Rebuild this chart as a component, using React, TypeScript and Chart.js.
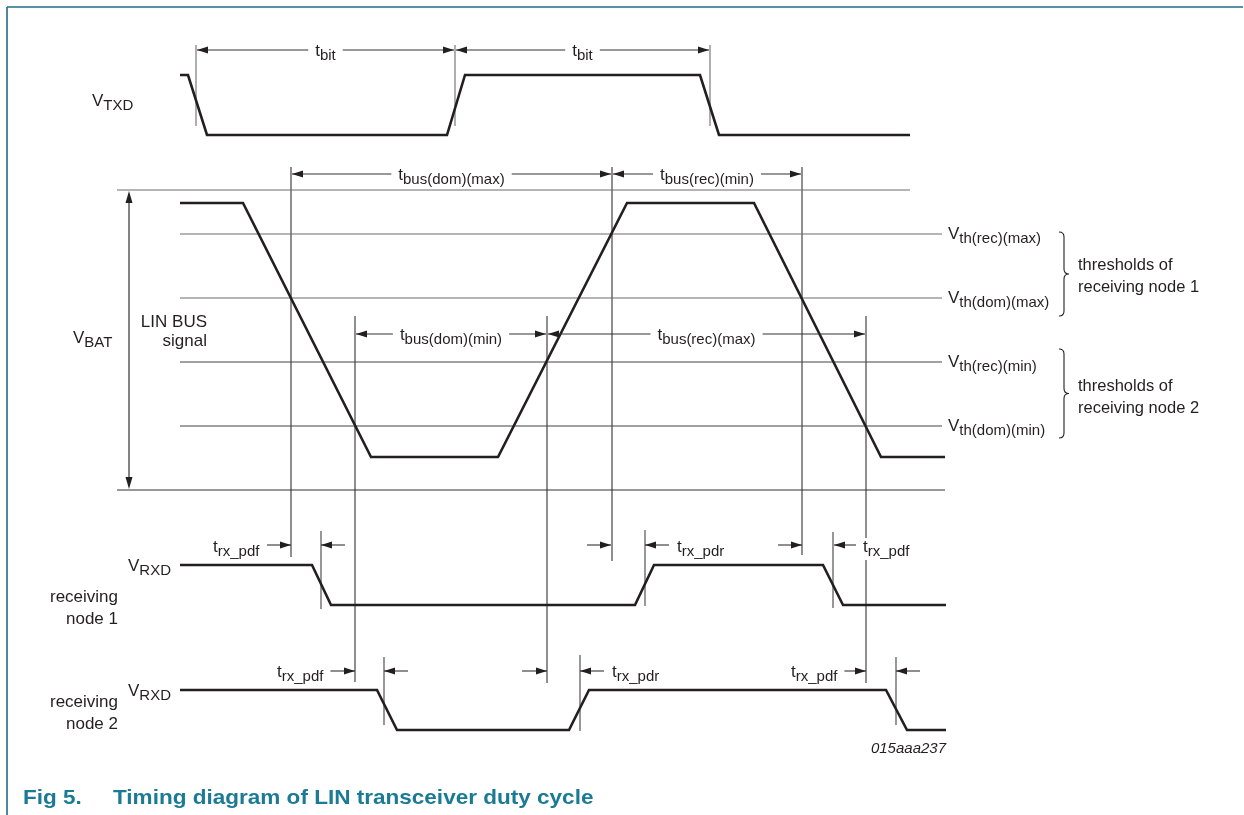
import React, { useEffect, useRef } from "react";
import { Chart, registerables } from "chart.js";

Chart.register(...registerables);

const W = 1244;
const H = 815;
const INK = "#231f20";
const GRAY = "#6d6d6d";
const TEAL = "#1b7a95";
const FRAME = "#266c84";
const FONT = '"Liberation Sans", Arial, Helvetica, sans-serif';

// ---- waveforms (time, level) ----
const txdTime = [180, 188, 207, 447, 465, 700, 719, 910];
const txdLevel = [75, 75, 135, 135, 75, 75, 135, 135];
const busTime = [180, 243, 371, 498, 627, 754, 881, 945];
const busLevel = [203, 203, 457, 457, 203, 203, 457, 457];
const rxd1Time = [180, 312, 331, 635, 654, 823, 843, 946];
const rxd1Level = [565, 565, 605, 605, 565, 565, 605, 605];
const rxd2Time = [180, 377, 397, 569, 589, 886, 907, 946];
const rxd2Level = [690, 690, 730, 730, 690, 690, 730, 730];

// ---- bus reference levels ----
const vbatLevels = [190, 490];
const vbatEnds = [910, 945];
const thresholdLevels = [234, 298, 362, 426];
const thresholdSubs = ["th(rec)(max)", "th(dom)(max)", "th(rec)(min)", "th(dom)(min)"];

// ---- timing marks ----
const tbitMarks = [196, 455, 710];
const busMarkTime = [291, 355, 547, 612, 802, 866];
const busMarkTop = [167, 316, 316, 167, 167, 316];
const busMarkBottom = [557, 682, 683, 561, 555, 683];
const rxMarkTime = [321, 645, 833, 384, 580, 896];
const rxMarkTop = [531, 530, 532, 657, 655, 657];
const rxMarkBottom = [609, 606, 608, 725, 731, 725];

// ---- dimension arrows: from, to, row, subscript ----
const dimFrom = [196, 455, 291, 612, 355, 547];
const dimTo = [455, 710, 612, 802, 547, 866];
const dimRow = [50, 50, 174, 174, 334, 334];
const dimSub = ["bit", "bit", "bus(dom)(max)", "bus(rec)(min)", "bus(dom)(min)", "bus(rec)(max)"];

// ---- propagation delay arrows: tail, tip, row ----
const pdTail = [267, 345, 587, 669, 778, 858, 330, 408, 522, 604, 841, 920];
const pdTip = [291, 321, 611, 645, 802, 834, 355, 384, 547, 580, 866, 896];
const pdRow = [545, 545, 545, 545, 545, 545, 671, 671, 671, 671, 671, 671];
const pdLabelX = [213, 677, 863, 277, 612, 791];
const pdLabelRow = [552, 552, 552, 677, 677, 677];
const pdLabelSub = ["rx_pdf", "rx_pdr", "rx_pdf", "rx_pdf", "rx_pdr", "rx_pdf"];

export default function App() {
  const ref = useRef<HTMLCanvasElement>(null);

  useEffect(() => {
    document.body.style.margin = "0";
    const canvas = ref.current;
    if (!canvas) return;

    const datasets: any[] = [];
    const wave = (xs: number[], ys: number[]) => ({
      data: xs.map((x, i) => ({ x, y: ys[i] })),
      showLine: true,
      borderColor: INK,
      borderWidth: 2.6,
      pointRadius: 0,
      tension: 0,
      clip: false,
      borderJoinStyle: "miter",
      order: 0,
    });
    const seg = (x1: number, y1: number, x2: number, y2: number, color: string, width: number) => ({
      data: [
        { x: x1, y: y1 },
        { x: x2, y: y2 },
      ],
      showLine: true,
      borderColor: color,
      borderWidth: width,
      pointRadius: 0,
      tension: 0,
      clip: false,
      order: 1,
    });

    // frame
    datasets.push(seg(7, 7, 1243, 7, FRAME, 1.6));
    datasets.push(seg(7, 7, 7, 815, FRAME, 1.6));
    // VBAT / ground lines
    vbatLevels.forEach((y, i) => datasets.push(seg(117, y, vbatEnds[i], y, i === 0 ? GRAY : "#333", 1.2)));
    // thresholds
    thresholdLevels.forEach((y, i) => datasets.push(seg(180, y, 942, y, i < 2 ? GRAY : "#444", 1.1)));
    // tbit marks
    tbitMarks.forEach((x) => datasets.push(seg(x, 45, x, 126, GRAY, 1.1)));
    // bus timing marks
    busMarkTime.forEach((x, i) => datasets.push(seg(x, busMarkTop[i], x, busMarkBottom[i], "#333", 1.1)));
    // rx marks
    rxMarkTime.forEach((x, i) => datasets.push(seg(x, rxMarkTop[i], x, rxMarkBottom[i], "#444", 1.1)));
    // VBAT arrow shaft
    datasets.push(seg(129, 196, 129, 484, "#333", 1.2));
    // waveforms
    datasets.push(wave(txdTime, txdLevel));
    datasets.push(wave(busTime, busLevel));
    datasets.push(wave(rxd1Time, rxd1Level));
    datasets.push(wave(rxd2Time, rxd2Level));

    const annot = {
      id: "annot",
      afterDatasetsDraw(chart: any) {
        const c: CanvasRenderingContext2D = chart.ctx;
        const sx = (v: number) => chart.scales.x.getPixelForValue(v);
        const sy = (v: number) => chart.scales.y.getPixelForValue(v);

        const head = (tipX: number, tipY: number, dir: number, vertical = false) => {
          c.beginPath();
          if (!vertical) {
            c.moveTo(tipX, tipY);
            c.lineTo(tipX - dir * 11, tipY - 3.5);
            c.lineTo(tipX - dir * 11, tipY + 3.5);
          } else {
            c.moveTo(tipX, tipY);
            c.lineTo(tipX - 3.5, tipY - dir * 12);
            c.lineTo(tipX + 3.5, tipY - dir * 12);
          }
          c.closePath();
          c.fill();
        };

        const subText = (
          x: number,
          y: number,
          main: string,
          sub: string,
          align: "left" | "center" | "right",
          bg: boolean,
          mainSize = 17,
          subSize = 15
        ) => {
          c.textAlign = "left";
          c.textBaseline = "alphabetic";
          c.font = `${mainSize}px ${FONT}`;
          const w1 = c.measureText(main).width;
          c.font = `${subSize}px ${FONT}`;
          const w2 = c.measureText(sub).width;
          const w = w1 + w2;
          let x0 = x;
          if (align === "center") x0 = x - w / 2;
          if (align === "right") x0 = x - w;
          if (bg) {
            c.fillStyle = "#ffffff";
            c.fillRect(x0 - 7, y - 14, w + 14, 22);
          }
          c.fillStyle = INK;
          c.font = `${mainSize}px ${FONT}`;
          c.fillText(main, x0, y);
          c.font = `${subSize}px ${FONT}`;
          c.fillText(sub, x0 + w1, y + 4);
        };

        const plain = (x: number, y: number, s: string, align: CanvasTextAlign, size = 17) => {
          c.fillStyle = INK;
          c.font = `${size}px ${FONT}`;
          c.textAlign = align;
          c.textBaseline = "alphabetic";
          c.fillText(s, x, y);
        };

        c.save();
        c.strokeStyle = INK;
        c.fillStyle = INK;

        // dimension arrows
        dimFrom.forEach((a, i) => {
          const x1 = sx(a) + 1;
          const x2 = sx(dimTo[i]) - 1;
          const y = sy(dimRow[i]);
          c.strokeStyle = "#333";
          c.lineWidth = 1.1;
          c.beginPath();
          c.moveTo(x1, y);
          c.lineTo(x2, y);
          c.stroke();
          c.fillStyle = INK;
          head(x1, y, -1);
          head(x2, y, 1);
          subText((x1 + x2) / 2, y + 6, "t", dimSub[i], "center", true);
        });

        // propagation delay arrows
        pdTail.forEach((t, i) => {
          const x1 = sx(t);
          const x2 = sx(pdTip[i]);
          const y = sy(pdRow[i]);
          c.strokeStyle = "#333";
          c.lineWidth = 1.1;
          c.beginPath();
          c.moveTo(x1, y);
          c.lineTo(x2, y);
          c.stroke();
          c.fillStyle = INK;
          head(x2, y, x2 > x1 ? 1 : -1);
        });
        pdLabelX.forEach((x, i) => {
          subText(sx(x), sy(pdLabelRow[i]), "t", pdLabelSub[i], "left", true);
        });

        // VBAT arrow heads
        c.fillStyle = INK;
        head(sx(129), sy(vbatLevels[0]) + 1, -1, true);
        head(sx(129), sy(vbatLevels[1]) - 1, 1, true);

        // threshold labels
        thresholdLevels.forEach((y, i) => {
          subText(sx(948), sy(y) + 5, "V", thresholdSubs[i], "left", false, 17, 15);
        });

        // braces
        const brace = (x0: number, yTop: number, yBot: number) => {
          const d = 10;
          const yMid = (yTop + yBot) / 2;
          c.strokeStyle = INK;
          c.lineWidth = 1.1;
          c.beginPath();
          c.moveTo(x0, yTop);
          c.quadraticCurveTo(x0 + d / 2, yTop, x0 + d / 2, yTop + d / 2);
          c.lineTo(x0 + d / 2, yMid - d / 2);
          c.quadraticCurveTo(x0 + d / 2, yMid, x0 + d, yMid);
          c.quadraticCurveTo(x0 + d / 2, yMid, x0 + d / 2, yMid + d / 2);
          c.lineTo(x0 + d / 2, yBot - d / 2);
          c.quadraticCurveTo(x0 + d / 2, yBot, x0, yBot);
          c.stroke();
        };
        brace(sx(1059), sy(232), sy(316));
        brace(sx(1059), sy(349), sy(438));
        plain(sx(1078), sy(270), "thresholds of", "left", 16.5);
        plain(sx(1078), sy(292), "receiving node 1", "left", 16.5);
        plain(sx(1078), sy(391), "thresholds of", "left", 16.5);
        plain(sx(1078), sy(413), "receiving node 2", "left", 16.5);

        // left labels
        subText(sx(92), sy(106), "V", "TXD", "left", false);
        subText(sx(73), sy(343), "V", "BAT", "left", false);
        plain(sx(207), sy(327), "LIN BUS", "right");
        plain(sx(207), sy(346), "signal", "right");
        subText(sx(128), sy(571), "V", "RXD", "left", false);
        plain(sx(118), sy(602), "receiving", "right");
        plain(sx(118), sy(624), "node 1", "right");
        subText(sx(128), sy(696), "V", "RXD", "left", false);
        plain(sx(118), sy(707), "receiving", "right");
        plain(sx(118), sy(729), "node 2", "right");

        // figure code
        c.fillStyle = INK;
        c.font = `italic 15px ${FONT}`;
        c.textAlign = "right";
        c.fillText("015aaa237", sx(946), sy(753));

        // title (slightly widened to match the original typesetting)
        c.fillStyle = TEAL;
        c.font = `bold 21px ${FONT}`;
        c.textAlign = "left";
        const drawWide = (s: string, x: number, y: number, k: number) => {
          c.save();
          c.translate(x, y);
          c.scale(k, 1);
          c.fillText(s, 0, 0);
          c.restore();
        };
        drawWide("Fig 5.", sx(23), sy(804), 1.073);
        drawWide("Timing diagram of LIN transceiver duty cycle", sx(113), sy(804), 1.073);

        c.restore();
      },
    };

    const chart = new Chart(canvas, {
      type: "scatter",
      data: { datasets },
      options: {
        animation: false,
        responsive: false,
        maintainAspectRatio: false,
        events: [],
        layout: { padding: 0 },
        plugins: { legend: { display: false }, tooltip: { enabled: false }, title: { display: false } },
        scales: {
          x: { type: "linear", min: 0, max: W, display: false },
          y: { type: "linear", min: 0, max: H, reverse: true, display: false },
        },
      },
      plugins: [annot],
    });
    return () => chart.destroy();
  }, []);

  return (
    <div style={{ width: W, height: H, background: "#fff" }}>
      <canvas ref={ref} width={W} height={H} style={{ display: "block" }} />
    </div>
  );
}
